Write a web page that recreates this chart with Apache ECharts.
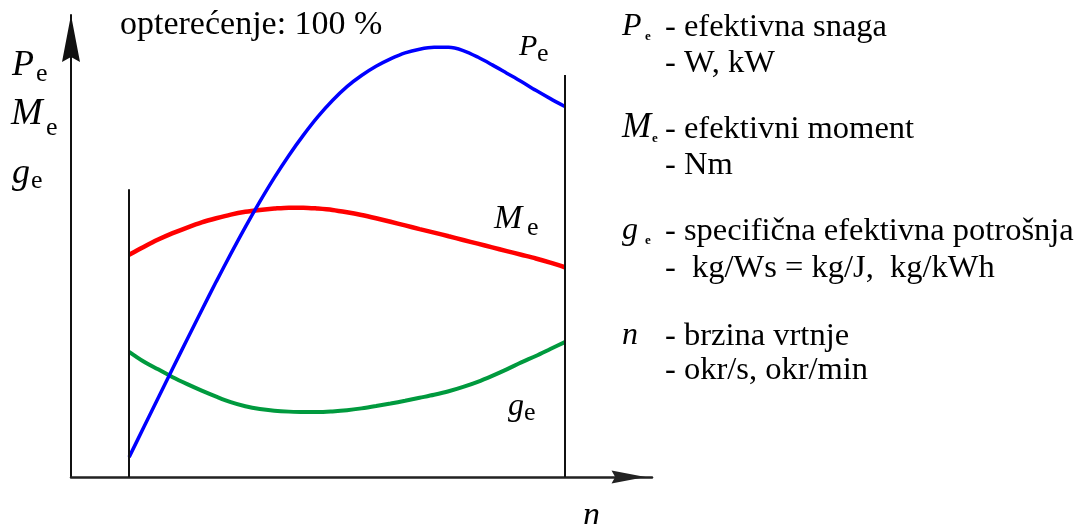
<!DOCTYPE html>
<html>
<head>
<meta charset="utf-8">
<script src="https://cdn.jsdelivr.net/npm/echarts@6/dist/echarts.min.js"></script>
<style>
html,body{margin:0;padding:0;background:#fff;}
#chart{width:1080px;height:524px;}
</style>
</head>
<body>
<div id="chart"></div>
<script>
// speed n (relative units along the x axis)
var nValues = [10, 12.5, 15, 17.5, 20, 22.5, 25, 27.5, 30, 32.5, 35, 37.5, 40, 42.5, 45, 47.5,
               50, 52.5, 55, 57.5, 60, 62.5, 65, 67.5, 70, 72.5, 75, 77.5, 80, 82.5, 85];
// effective power Pe
var peValues = [4.3, 10.7, 17.1, 23.5, 29.8, 36.1, 42.3, 48.3, 54.1, 59.6, 64.8, 69.6, 74.0, 78.0, 81.5, 84.5,
                86.9, 88.9, 90.5, 91.8, 92.6, 93.0, 93.0, 92.3, 90.9, 89.2, 87.4, 85.6, 83.7, 81.9, 80.2];
// effective torque Me
var meValues = [48.1, 49.8, 51.4, 52.8, 54.0, 55.1, 56.0, 56.8, 57.4, 57.8, 58.1, 58.3, 58.3, 58.1, 57.8, 57.3,
                56.7, 56.0, 55.25, 54.45, 53.65, 52.9, 52.1, 51.3, 50.5, 49.7, 48.9, 48.1, 47.3, 46.4, 45.4];
// specific effective consumption ge
var geValues = [27.1, 25.0, 23.3, 21.6, 20.1, 18.7, 17.4, 16.2, 15.3, 14.7, 14.35, 14.15, 14.05, 14.05, 14.2, 14.45,
                14.85, 15.35, 15.9, 16.5, 17.15, 17.8, 18.55, 19.5, 20.6, 21.9, 23.3, 24.8, 26.2, 27.7, 29.2];
// operating range bounds (n) and heights of the boundary lines
var rangeN = [10, 85];
var rangeTop = [62.3, 87.0];

var titleText = 'opterećenje: 100 %';
var legendRows = [
  ['P', '- efektivna snaga', '- W, kW'],
  ['M', '- efektivni moment', '- Nm'],
  ['g', '- specifična efektivna potrošnja', '-  kg/Ws = kg/J,  kg/kWh'],
  ['n', '- brzina vrtnje', '- okr/s, okr/min']
];

function pairs(vals) {
  return nValues.map(function (n, i) { return [n, vals[i]]; });
}

function txt(str, x, baseline, size, italic, bold) {
  return {
    type: 'text',
    x: x,
    y: Math.round(baseline - 0.3375 * size),
    silent: true,
    style: {
      text: str,
      font: (italic ? 'italic ' : '') + (bold ? 'bold ' : '') + size + 'px "Liberation Serif"',
      fill: '#000',
      textAlign: 'left',
      verticalAlign: 'middle'
    }
  };
}

var graphics = [];
// title
graphics.push(txt(titleText, 120, 36, 34, false));
// left axis labels
graphics.push(txt('P', 12, 78, 36, true));
graphics.push(txt('e', 36, 83, 26, false));
graphics.push(txt('M', 11, 127, 38, true));
graphics.push(txt('e', 46, 137, 26, false));
graphics.push(txt('g', 12, 186, 36, true));
graphics.push(txt('e', 31, 190, 26, false));
// curve labels
graphics.push(txt('P', 519, 57, 30, true));
graphics.push(txt('e', 537, 63, 26, false));
graphics.push(txt('M', 494, 230, 34, true));
graphics.push(txt('e', 527, 237, 26, false));
graphics.push(txt('g', 508, 418, 32, true));
graphics.push(txt('e', 524, 422, 26, false));
// n axis label
graphics.push(txt('n', 583, 527, 34, true));
// right legend
var rowBase = [[38, 74], [140, 176], [242, 279], [347, 381]];
var symSize = [32, 35, 32, 32];
var subX = [645, 652, 645, null];
legendRows.forEach(function (r, i) {
  graphics.push(txt(r[0], 622, rowBase[i][0], symSize[i], true));
  if (subX[i] !== null) graphics.push(txt('e', subX[i], rowBase[i][0] + 3, 13, false, true));
  graphics.push(txt(r[1], 665, rowBase[i][0], 32.5, false));
  graphics.push(txt(r[2], 665, rowBase[i][1], 32.5, false));
});

var chart = echarts.init(document.getElementById('chart'), null, {renderer: 'canvas'});
var arrowPath = 'path://M9,0 L18,47 L9,42 L0,47 Z';
chart.setOption({
  animation: false,
  backgroundColor: '#fff',
  grid: {left: 71, right: 428, top: 15, bottom: 47, containLabel: false},
  xAxis: {
    type: 'value', min: 0, max: 100,
    axisLine: {
      show: true, onZero: false,
      symbol: ['none', arrowPath], symbolSize: [13, 47], symbolOffset: [0, -23.5],
      lineStyle: {color: '#222', width: 2.5}
    },
    axisTick: {show: false}, axisLabel: {show: false}, splitLine: {show: false}
  },
  yAxis: {
    type: 'value', min: 0, max: 100,
    axisLine: {
      show: true, onZero: false,
      symbol: ['none', arrowPath], symbolSize: [18, 47], symbolOffset: [0, -23.5],
      lineStyle: {color: '#111', width: 2}
    },
    axisTick: {show: false}, axisLabel: {show: false}, splitLine: {show: false}
  },
  series: [
    {
      name: 'Pe', type: 'line', data: pairs(peValues), smooth: 0.3, showSymbol: false,
      lineStyle: {color: '#0000ff', width: 3.5}, z: 3,
      markLine: {
        silent: true, symbol: ['none', 'none'], animation: false,
        label: {show: false},
        lineStyle: {color: '#111', width: 2, type: 'solid'},
        data: [
          [{coord: [rangeN[0], rangeTop[0]]}, {coord: [rangeN[0], 0]}],
          [{coord: [rangeN[1], rangeTop[1]]}, {coord: [rangeN[1], 0]}]
        ]
      }
    },
    {
      name: 'Me', type: 'line', data: pairs(meValues), smooth: 0.3, showSymbol: false,
      lineStyle: {color: '#ff0000', width: 4.5}, z: 2
    },
    {
      name: 'ge', type: 'line', data: pairs(geValues), smooth: 0.3, showSymbol: false,
      lineStyle: {color: '#009a3e', width: 4}, z: 2
    }
  ],
  graphic: graphics
});
</script>
</body>
</html>
